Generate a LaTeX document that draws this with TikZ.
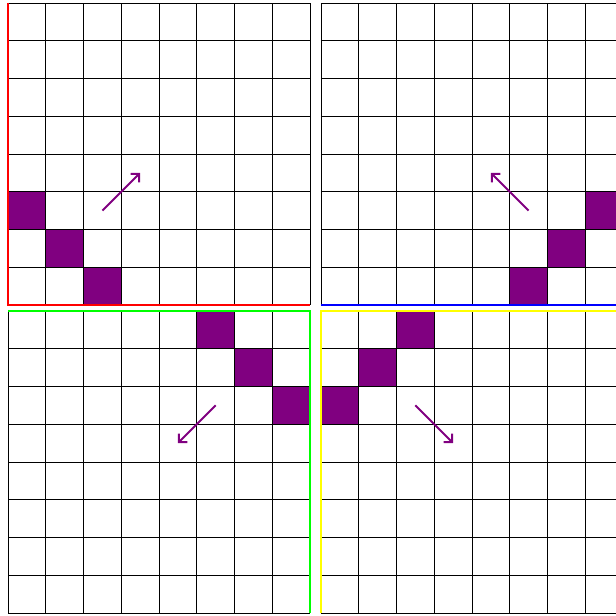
\documentclass[tikz,border=0pt]{standalone}
\usepackage{tikz}
\usetikzlibrary{arrows.meta}
\definecolor{cellpurple}{HTML}{800080}
\definecolor{rimred}{HTML}{FF0000}
\definecolor{rimblue}{HTML}{0000FF}
\definecolor{rimgreen}{HTML}{00FF00}
\definecolor{rimyellow}{HTML}{FFFF00}
\tikzset{
  >={Straight Barb[length=1.6mm,width=3.2mm]},
  gridline/.style={draw=black,line width=0.55pt},
  filled/.style={fill=cellpurple},
  rim/.style={line width=2.1pt},
  move/.style={->,draw=cellpurple,line width=1.5pt}
}

\begin{document}
\begin{tikzpicture}[x=1cm,y=1cm]
  \useasboundingbox (-0.212,0.079) rectangle (16.106,-16.238);

  % purple cells, (col/row) counted from each grid's top left corner
  \foreach \c/\r in {0/5,1/6,2/7}
    \fill[filled] (\c,-\r) rectangle ++(1,-1);
  \foreach \c/\r in {7/5,6/6,5/7}
    \fill[filled,shift={(8.291,0)}] (\c,-\r) rectangle ++(1,-1);
  \foreach \c/\r in {5/0,6/1,7/2}
    \fill[filled,shift={(0,-8.159)}] (\c,-\r) rectangle ++(1,-1);
  \foreach \c/\r in {0/2,1/1,2/0}
    \fill[filled,shift={(8.291,-8.159)}] (\c,-\r) rectangle ++(1,-1);

  % the four 8x8 boards
  \foreach \gx/\gy in {0/0, 8.291/0, 0/-8.159, 8.291/-8.159}
    \draw[gridline,shift={(\gx,\gy)}] (0,-8) grid (8,0);

  % coloured rims
  \draw[rim,rimred] (0,0) -- (0,-8) -- (8,-8);
  \draw[rim,rimblue] (8.291,-8) -- (16.291,-8);
  \draw[rim,rimgreen] (0,-8.159) -- (8,-8.159) -- (8,-16.159);
  \draw[rim,rimyellow] (8.291,-16.159) -- (8.291,-8.159) -- (16.291,-8.159);

  % moves
  \coordinate (tl-from) at (2.5,-5.5);
  \coordinate (tl-to) at (3.5,-4.5);
  \coordinate (tr-from) at (8.291+5.5,-5.5);
  \coordinate (tr-to) at (8.291+4.5,-4.5);
  \coordinate (bl-from) at (5.5,-8.159-2.5);
  \coordinate (bl-to) at (4.5,-8.159-3.5);
  \coordinate (br-from) at (8.291+2.5,-8.159-2.5);
  \coordinate (br-to) at (8.291+3.5,-8.159-3.5);
  \draw[move] (tl-from) -- (tl-to);
  \draw[move] (tr-from) -- (tr-to);
  \draw[move] (bl-from) -- (bl-to);
  \draw[move] (br-from) -- (br-to);
\end{tikzpicture}
\end{document}
